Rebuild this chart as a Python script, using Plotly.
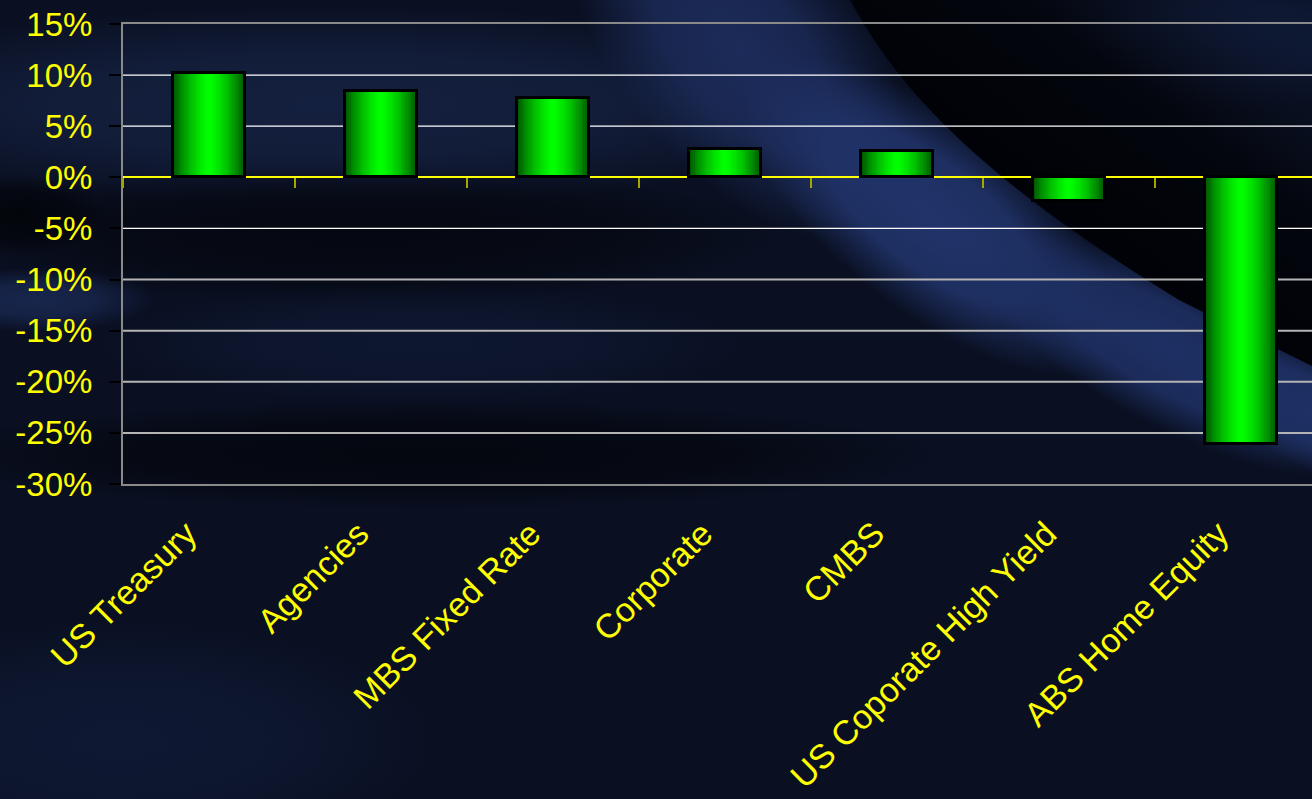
import base64
import plotly.graph_objects as go

# ---- data -------------------------------------------------------------
categories = ["US Treasury", "Agencies", "MBS Fixed Rate", "Corporate",
              "CMBS", "US Coporate High Yield", "ABS Home Equity"]
returns_pct = [10.2, 8.4, 7.8, 2.8, 2.6, -2.3, -26.1]

y_tick_values = [15, 10, 5, 0, -5, -10, -15, -20, -25, -30]
y_tick_labels = ["15%", "10%", "5%", "0%", "-5%", "-10%", "-15%", "-20%", "-25%", "-30%"]

# ---- geometry / style -------------------------------------------------
W, H = 1312, 799
M_L, M_T, M_B, M_R = 123, 24, 315, 0
plot_w = W - M_L - M_R
plot_h = H - M_T - M_B
cat_px = 172.0                      # pixels per category slot
x_pos = list(range(len(categories)))
x_range = [-0.5, -0.5 + plot_w / cat_px]
y_range = [-30, 15]
bar_w = 0.415
label_shift = 0.13                  # rotated labels sit slightly left of the bar centre
FONT = "Liberation Sans, Arial, sans-serif"
YELLOW = "#ffff00"


def glow(gid, color, stops=((0, 1), (0.5, 0.8), (1, 0))):
    s = "".join(f'<stop offset="{o}" stop-color="{color}" stop-opacity="{a}"/>' for o, a in stops)
    return f'<radialGradient id="{gid}">{s}</radialGradient>'


# ---- background artwork (dark navy with a blue swoosh) ----------------
svg = f"""<svg xmlns="http://www.w3.org/2000/svg" width="{W}" height="{H}" viewBox="0 0 {W} {H}">
<defs>
 {glow("navy", "#14203f")}
 {glow("navy2", "#18264d")}
 {glow("navy3", "#0f1a36")}
 {glow("shade", "#03050b", ((0, 1), (0.6, 0.7), (1, 0)))}
 {glow("sw1", "#1c2b59")}
 {glow("sw2", "#21346b", ((0, 1), (0.55, 0.85), (1, 0)))}
 {glow("sw3", "#1e3064", ((0, 1), (0.55, 0.85), (1, 0)))}
 <linearGradient id="dark" gradientUnits="userSpaceOnUse" x1="1050" y1="200" x2="1220" y2="-30">
  <stop offset="0" stop-color="#010207" stop-opacity="1"/>
  <stop offset="0.5" stop-color="#03050c" stop-opacity="0.92"/>
  <stop offset="1" stop-color="#0c1428" stop-opacity="0"/>
 </linearGradient>
</defs>
<rect width="{W}" height="{H}" fill="#0a1022"/>
<ellipse cx="330" cy="105" rx="560" ry="100" fill="url(#navy)"/>
<ellipse cx="360" cy="235" rx="430" ry="70" fill="url(#shade)" opacity="0.75"/>
<ellipse cx="35" cy="300" rx="120" ry="32" fill="url(#navy2)"/>
<ellipse cx="20" cy="215" rx="90" ry="40" fill="url(#shade)"/>
<ellipse cx="430" cy="455" rx="520" ry="55" fill="url(#shade)" opacity="0.85"/>
<ellipse cx="420" cy="345" rx="330" ry="60" fill="url(#navy3)" opacity="0.7"/>
<ellipse cx="120" cy="740" rx="320" ry="120" fill="url(#navy3)" opacity="0.8"/>
<ellipse cx="1230" cy="40" rx="200" ry="70" fill="url(#navy3)"/>
<ellipse cx="740" cy="50" rx="230" ry="120" fill="url(#sw1)" transform="rotate(50 740 50)"/>
<ellipse cx="930" cy="215" rx="230" ry="95" fill="url(#sw2)" transform="rotate(38 930 215)"/>
<ellipse cx="1170" cy="350" rx="230" ry="75" fill="url(#sw3)" transform="rotate(28 1170 350)"/>
<ellipse cx="1310" cy="410" rx="110" ry="55" fill="url(#sw3)" transform="rotate(28 1310 410)"/>
<path d="M845,-10 C900,100 1000,190 1179,300 L1340,380 L1340,-10 Z" fill="url(#dark)"/>
</svg>"""
bg_src = "data:image/svg+xml;base64," + base64.b64encode(svg.encode()).decode()

fig = go.Figure()

# ---- bars: stacked overlays build a horizontal light-to-dark gradient --
N_LAYERS = 20
for k in range(N_LAYERS):
    r = 1.0 - k / N_LAYERS                 # half-width fraction of this layer
    g = int(round(255 - 165 * r ** 1.5))
    fig.add_trace(go.Bar(
        x=x_pos, y=returns_pct, width=bar_w * r,
        marker=dict(color=f"rgb(0,{g},0)", line=dict(width=0)),
        hoverinfo="skip", showlegend=False,
    ))
# outline on top
fig.add_trace(go.Bar(
    x=x_pos, y=returns_pct, width=bar_w,
    marker=dict(color="rgba(0,0,0,0)", line=dict(color="#000000", width=3)),
    hovertext=categories, hovertemplate="%{hovertext}: %{y:.1f}%<extra></extra>",
    showlegend=False,
))

# ---- gridlines ----------------------------------------------------------
shapes = []
for v in y_tick_values:
    if v in (y_range[0], y_range[1], 0):
        continue
    bright = v >= -5
    shapes.append(dict(
        type="line", xref="paper", x0=0, x1=1, yref="y", y0=v, y1=v,
        line=dict(color="#ffffff" if bright else "#b4b4b4", width=1.3 if bright else 2),
        layer="below",
    ))

fig.update_layout(
    width=W, height=H,
    margin=dict(l=M_L, r=M_R, t=M_T, b=M_B, pad=0),
    paper_bgcolor="#0a1022",
    plot_bgcolor="rgba(0,0,0,0)",
    barmode="overlay",
    bargap=0,
    showlegend=False,
    font=dict(family=FONT, color=YELLOW),
    images=[dict(
        source=bg_src, xref="paper", yref="paper",
        x=-M_L / plot_w, y=1 + M_T / plot_h,
        sizex=W / plot_w, sizey=H / plot_h,
        xanchor="left", yanchor="top", sizing="stretch", layer="below",
    )],
    shapes=shapes,
    # frame of the plot area (no labels)
    xaxis=dict(
        range=x_range, showticklabels=False, ticks="", showgrid=False, zeroline=False,
        showline=True, linecolor="#8a8a8a", linewidth=2, mirror=True,
    ),
    # short yellow ticks hanging from the zero line at category boundaries
    xaxis2=dict(
        overlaying="x", anchor="free",
        position=(0 - y_range[0]) / (y_range[1] - y_range[0]),
        range=x_range, tickmode="array",
        tickvals=[i - 0.5 for i in range(len(categories) + 1)],
        ticks="outside", ticklen=10, tickwidth=2, tickcolor="#a6a600",
        showticklabels=False, showgrid=False, zeroline=False, showline=False,
    ),
    # rotated category labels
    xaxis3=dict(
        overlaying="x", anchor="y", side="bottom",
        range=x_range, tickmode="array",
        tickvals=[i - label_shift for i in x_pos], ticktext=categories,
        tickangle=-45, tickfont=dict(size=34, color=YELLOW, family=FONT),
        ticks="", showgrid=False, zeroline=False, showline=False,
        ticklabelstandoff=22,
    ),
    yaxis=dict(
        range=y_range, tickmode="array", tickvals=y_tick_values, ticktext=y_tick_labels,
        tickfont=dict(size=33, color=YELLOW, family=FONT),
        ticks="outside", ticklen=12, tickwidth=1.5, tickcolor="#000000",
        showgrid=False, zeroline=True, zerolinecolor=YELLOW, zerolinewidth=2,
        showline=True, linecolor="#8a8a8a", linewidth=2, mirror=False,
        ticklabelstandoff=10,
    ),
)

# invisible traces so the helper axes are rendered
for ax in ("x2", "x3"):
    fig.add_trace(go.Scatter(x=[x_range[0]], y=[0], xaxis=ax, mode="markers",
                             marker=dict(opacity=0), hoverinfo="skip", showlegend=False))

fig.write_html("out.html")
